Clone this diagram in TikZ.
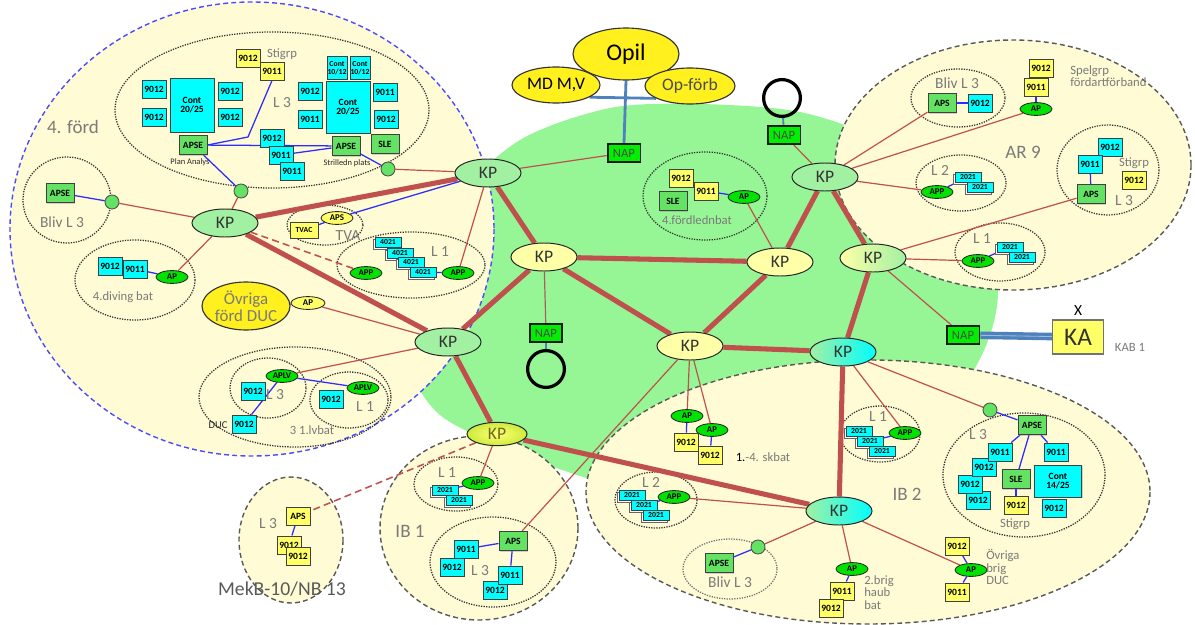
\documentclass[tikz,border=0pt]{standalone}
\usepackage{fontspec}
\setmainfont{Carlito}
\usetikzlibrary{shapes.geometric,shadows}

\definecolor{regyel}{RGB}{255,251,212}
\definecolor{netgreen}{RGB}{150,246,150}
\definecolor{kpgreen}{RGB}{162,240,162}
\definecolor{kpyel}{RGB}{255,255,168}
\definecolor{linkred}{RGB}{192,80,77}
\definecolor{boxcyan}{RGB}{0,255,255}
\definecolor{boxyel}{RGB}{255,255,102}
\definecolor{boxgreen}{RGB}{100,226,100}
\definecolor{apgreen}{RGB}{0,226,0}
\definecolor{napgreen}{RGB}{0,238,0}
\definecolor{steel}{RGB}{79,129,189}
\definecolor{txtgray}{RGB}{122,122,122}
\definecolor{blueline}{RGB}{45,45,255}
\definecolor{opyel}{RGB}{255,240,30}
\definecolor{limeyel}{RGB}{205,235,60}

\pgfdeclarelayer{back}
\pgfdeclarelayer{mid}
\pgfsetlayers{back,mid,main}

\def\fsz#1{\fontsize{#1}{#1}\selectfont}
\def\bxf{\fsz{6.8}\bfseries}
\def\tnf{\fsz{5.5}\bfseries}

\tikzset{
  kp/.style={ellipse, draw=black!85, line width=0.7pt, inner sep=0pt, minimum width=16.5mm, minimum height=7mm, text=black!80, font=\fsz{12.5}},
  kpg/.style={kp, fill=kpgreen},
  kpy/.style={kp, fill=kpyel},
  unitbox/.style={rectangle, draw=black!75, line width=0.7pt, inner sep=0pt, minimum width=6mm, minimum height=4.5mm, font=\bxf, align=center, drop shadow={shadow xshift=0.7pt, shadow yshift=-0.7pt, opacity=0.35}},
  cbox/.style={unitbox, fill=boxcyan},
  ybox/.style={unitbox, fill=boxyel},
  gbox/.style={unitbox, fill=boxgreen, minimum width=7mm, minimum height=4.8mm},
  sbox/.style={rectangle, draw=black!75, line width=0.6pt, fill=boxcyan, inner sep=0pt, minimum width=6.5mm, minimum height=2.5mm, font=\tnf, general shadow={shadow xshift=-0.8pt, shadow yshift=-1.7pt, fill=white, draw=black!60}},
  knot/.style={circle, draw=black!70, line width=0.6pt, fill=boxgreen, minimum size=3.5mm, inner sep=0pt},
  ap/.style={ellipse, draw=black!85, line width=0.6pt, fill=apgreen, minimum width=8mm, minimum height=3.2mm, inner sep=0pt, font=\fsz{6.3}\bfseries},
  nap/.style={rectangle, draw=black!90, line width=1.3pt, fill=napgreen, minimum width=8.2mm, minimum height=4.6mm, inner sep=0pt, font=\fsz{9}, text=black!70},
  ring/.style={circle, draw=black, line width=2.3pt, minimum size=9.2mm, inner sep=0pt},
  bub/.style={ellipse, draw=black!80, line width=0.8pt, fill=opyel, inner sep=0pt},
  lbl/.style={text=txtgray, inner sep=0pt, font=\fsz{11}},
  biglbl/.style={lbl, font=\fsz{13.5}},
  smlbl/.style={lbl, font=\fsz{9}, align=left},
  tinylbl/.style={inner sep=0pt, font=\fsz{6}, text=black!85},
  trunk/.style={draw=linkred, line width=3.6pt},
  lnk/.style={draw=linkred, line width=0.85pt},
  blk/.style={draw=blueline, line width=0.9pt},
  feed/.style={draw=steel, line width=2pt},
  dotreg/.style={draw=black!80, line width=0.9pt, dash pattern=on 0.9pt off 0.9pt},
  dashreg/.style={draw=black!65, fill=regyel, line width=1pt, dash pattern=on 3.5pt off 2.3pt},
  fordreg/.style={dashreg, draw=blueline!85}
}

\begin{document}
\begin{tikzpicture}[x=0.025cm, y=-0.025cm]
  %%%%% START %%%%%
  \useasboundingbox (0,0) rectangle (1195,624);

  %%%%% areas %%%%%
  \begin{pgfonlayer}{back}
    \fill[netgreen] plot[smooth cycle] coordinates {(700,104) (800,112) (885,142) (955,195) (996,275) (990,335) (955,395) (870,450) (760,490) (640,490) (580,476) (500,446) (440,415) (412,370) (412,290) (450,205) (520,140) (610,108)};
    \draw[fordreg] (252,229) ellipse (242 and 227);
    \draw[dashreg] (1013,165) ellipse (178 and 125);
    \draw[dashreg] (868,492) ellipse (282 and 132);
    \draw[dashreg] (479,528) ellipse (99 and 92);
    \draw[dashreg] (291,540) ellipse (52 and 63);

    \draw[dotreg] (272,110) ellipse (157 and 78);
    \draw[dotreg] (67,200) ellipse (44 and 43);
    \draw[dotreg] (135,280) ellipse (60 and 40);
    \draw[dotreg] (325,225) ellipse (38 and 20);
    \draw[dotreg] (411,265) ellipse (74 and 33);
    \draw[dotreg] (295,397) ellipse (96 and 50);
    \draw[dotreg] (268,388) ellipse (38 and 30);
    \draw[dotreg] (349,400) ellipse (39 and 28);
    \draw[dotreg] (958,98) ellipse (47 and 29);
    \draw[dotreg] (961,183) ellipse (45 and 28);
    \draw[dotreg] (1108,170) ellipse (51 and 45);
    \draw[dotreg] (1000,252) ellipse (45 and 29);
    \draw[dotreg] (705,196) ellipse (62 and 44);
    \draw[dotreg] (880,434) ellipse (40 and 28);
    \draw[dotreg] (656,500) ellipse (41 and 28);
    \draw[dotreg, draw=black!55] (730,569) ellipse (47 and 30);
    \draw[dotreg] (1024,475) ellipse (81 and 62);
    \draw[dotreg] (456,484) ellipse (42 and 27);
    \draw[dotreg] (493,562) ellipse (63 and 45);
  \end{pgfonlayer}

  %%%%% KP %%%%%
  \node[kpg] (kpford) at (225,223) {KP};
  \node[kpg] (kpfordN) at (488,173) {KP};
  \node[kpg] (kpfordS) at (448,342) {KP};
  \node[kpy] (kpW) at (544,257) {KP};
  \node[kpy] (kpE) at (780,262) {KP};
  \node[kpy] (kpS) at (690,346) {KP};
  \node[kp, left color=kpyel, right color=kpgreen] (kpR) at (873,258) {KP};
  \node[kpg] (kpAR) at (825,177) {KP};
  \node[kp, left color=kpgreen, right color=boxcyan] (kpC) at (843,352) {KP};
  \node[kp, left color=kpgreen, right color=boxcyan] (kpIB2) at (839,511) {KP};
  \node[kp, minimum width=15mm, minimum height=5.8mm, inner color=yellow!55, outer color=limeyel, text=olive!70!black] (kpIB1) at (497,434) {KP};

  %%%%% NAP, Opil, KA %%%%%
  \node[bub, minimum width=26.5mm, minimum height=13mm, font=\fsz{17}] (opil) at (626,54) {Opil};
  \node[bub, minimum width=22mm, minimum height=9mm, font=\fsz{12.5}] (mdmv) at (556,85) {MD M,V};
  \node[bub, minimum width=22.5mm, minimum height=9mm, font=\fsz{12.5}, text=black!70] (opforb) at (690,86) {Op-förb};
  \node[nap] (nap1) at (624,153) {NAP};
  \node[nap] (nap2) at (784,135) {NAP};
  \node[nap] (nap3) at (546,333) {NAP};
  \node[nap] (nap4) at (963,335) {NAP};
  \node[ring] (ring2) at (782,98) {};
  \node[ring] (ring3) at (546,369) {};
  \node[rectangle, draw=black!55, line width=1pt, fill=boxyel, minimum width=12.7mm, minimum height=8.5mm, font=\fsz{18}, text=black!80] (ka) at (1078,337) {KA};
  \node[inner sep=0pt, font=\fsz{11}] (kax) at (1078,311) {X};
  \node[smlbl] (kab) at (1130,347) {KAB 1};

  %%%%% 4. ford %%%%%
  \node[biglbl] (fordlbl) at (73,127) {4. förd};
  \node[ybox] (st9012) at (248,58) {9012};
  \node[ybox] (st9011) at (272,71) {9011};
  \node[smlbl] (stlbl) at (282,54) {Stigrp};
  \node[cbox] (pa9012a) at (154,89) {9012};
  \node[cbox] (pa9012b) at (154,117) {9012};
  \node[cbox, minimum width=11mm, minimum height=13.5mm] (cont1) at (192,105) {Cont\\20/25};
  \node[cbox] (pa9012c) at (230,91) {9012};
  \node[cbox] (pa9012d) at (230,117) {9012};
  \node[lbl] (l3a) at (282,103) {L 3};
  \node[gbox] (apsePA) at (193,145) {APSE};
  \node[tinylbl] (paname) at (190,162) {Plan Analys};
  \node[cbox] (x9012) at (272,138) {9012};
  \node[cbox] (x9011a) at (281,155) {9011};
  \node[cbox] (x9011b) at (292,171) {9011};
  \node[cbox, minimum width=5mm, minimum height=5.7mm, font=\tnf] (cont2a) at (337,68) {Cont\\10/12};
  \node[cbox, minimum width=5mm, minimum height=5.7mm, font=\tnf] (cont2b) at (360,68) {Cont\\10/12};
  \node[cbox] (sp9012) at (310,91) {9012};
  \node[cbox] (sp9011) at (310,119) {9011};
  \node[cbox, minimum width=11mm, minimum height=13mm] (cont3) at (348,107) {Cont\\20/25};
  \node[cbox] (sp9011b) at (385,92) {9011};
  \node[cbox] (sp9012b) at (386,119) {9012};
  \node[gbox] (apseSP) at (346,146) {APSE};
  \node[gbox] (sleSP) at (385,144) {SLE};
  \node[tinylbl] (spname) at (347,163) {Strilledn plats};
  \node[knot] (knotSP) at (388,169) {};
  \node[knot] (knotPA) at (241,191) {};

  \node[gbox] (apseBL) at (60,193) {APSE};
  \node[knot] (knotBL) at (112,202) {};
  \node[lbl] (blivA) at (62,222) {Bliv L 3};

  \node[cbox] (dv9012) at (110,266) {9012};
  \node[cbox] (dv9011) at (135,269) {9011};
  \node[ap] (apDiv) at (172,277) {AP};
  \node[smlbl] (dvlbl) at (123,297) {4.diving bat};

  \node[ybox, minimum width=7mm, minimum height=4mm, font=\tnf] (tvac) at (304,230) {TVAC};
  \node[ap, fill=boxyel] (apsTVA) at (337,218) {APS};
  \node[lbl] (tvalbl) at (348,236) {TVA};

  \node[sbox] (f4021a) at (388,242) {4021};
  \node[sbox] (f4021b) at (400,253) {4021};
  \node[sbox] (f4021c) at (411,262) {4021};
  \node[sbox] (f4021d) at (423,272) {4021};
  \node[ap] (appFa) at (366,273) {APP};
  \node[ap] (appFb) at (458,273) {APP};
  \node[lbl] (l1F) at (440,252) {L 1};

  \node[bub, minimum width=21.5mm, minimum height=12mm, font=\fsz{12}, text=txtgray, align=center] (ovrF) at (246,306) {Övriga\\förd DUC};
  \node[ap, fill=boxyel, minimum width=8.5mm] (apDUC) at (308,303) {AP};

  \node[lbl] (l3lv) at (275,395) {L 3};
  \node[ap] (aplv1) at (282,376) {APLV};
  \node[ap] (aplv2) at (363,388) {APLV};
  \node[cbox] (lv9012a) at (253,391) {9012};
  \node[cbox] (lv9012b) at (331,399) {9012};
  \node[cbox] (lv9012c) at (244,424) {9012};
  \node[tinylbl, font=\fsz{7.5}] (duclbl) at (218,425) {DUC};
  \node[lbl] (l1lv) at (365,407) {L 1};
  \node[smlbl] (lvlbl) at (312,430) {3 1.lvbat};

  %%%%% AR 9 %%%%%
  \node[biglbl] (arlbl) at (1023,152) {AR 9};
  \node[lbl] (blivB) at (957,83) {Bliv L 3};
  \node[gbox] (apsBL2) at (942,103) {APS};
  \node[cbox] (bl9012) at (980,103) {9012};
  \node[ybox] (sg9012) at (1041,68) {9012};
  \node[ybox] (sg9011) at (1036,87) {9011};
  \node[ap] (apSpel) at (1036,109) {AP};
  \node[smlbl, anchor=west] (spellbl) at (1070,76) {Spelgrp\\fördartförband};
  \node[lbl] (l2ar) at (940,170) {L 2};
  \node[sbox] (ar2021a) at (968,177) {2021};
  \node[sbox] (ar2021b) at (980,187) {2021};
  \node[ap] (appAR2) at (937,192) {APP};
  \node[cbox] (ar9012) at (1110,147) {9012};
  \node[cbox] (ar9011) at (1090,164) {9011};
  \node[gbox] (apsAR3) at (1091,194) {APS};
  \node[smlbl] (stAR) at (1134,163) {Stigrp};
  \node[ybox] (arY9012) at (1134,180) {9012};
  \node[lbl] (l3ar) at (1124,201) {L 3};
  \node[lbl] (l1ar) at (982,239) {L 1};
  \node[sbox] (ar1021a) at (1010,247) {2021};
  \node[sbox] (ar1021b) at (1022,257) {2021};
  \node[ap] (appAR1) at (978,261) {APP};

  %%%%% 4.fordlednbat %%%%%
  \node[ybox] (ld9012) at (681,178) {9012};
  \node[ybox] (ld9011) at (706,191) {9011};
  \node[gbox] (ldSLE) at (673,201) {SLE};
  \node[ap] (apLed) at (744,197) {AP};
  \node[smlbl] (ldlbl) at (697,220) {4.fördlednbat};

  %%%%% IB 2 %%%%%
  \node[biglbl] (ib2lbl) at (907,494) {IB 2};
  \node[ap] (apSk1) at (687,416) {AP};
  \node[ap] (apSk2) at (712,430) {AP};
  \node[ybox] (sk9012a) at (686,442) {9012};
  \node[ybox] (sk9012b) at (710,455) {9012};
  \node[smlbl] (sklbl) at (763,457) {{\color{black}1.}-4. skbat};
  \node[lbl] (l1ib2) at (878,417) {L 1};
  \node[sbox] (ib1021a) at (859,431) {2021};
  \node[sbox] (ib1021b) at (870,441) {2021};
  \node[sbox] (ib1021c) at (882,451) {2021};
  \node[ap] (appIB2a) at (905,433) {APP};
  \node[lbl] (l2ib2) at (651,482) {L 2};
  \node[sbox] (ib2021a) at (632,495) {2021};
  \node[sbox] (ib2021b) at (644,505) {2021};
  \node[sbox] (ib2021c) at (656,515) {2021};
  \node[ap] (appIB2b) at (674,497) {APP};
  \node[gbox] (apseBL3) at (719,563) {APSE};
  \node[knot] (knotBL3) at (758,547) {};
  \node[lbl] (blivC) at (730,582) {Bliv L 3};
  \node[ap] (apBrig) at (852,569) {AP};
  \node[ybox] (br9011) at (842,591) {9011};
  \node[ybox] (br9012) at (831,608) {9012};
  \node[smlbl, anchor=north west] (brlbl) at (864,575) {2.brig\\haub\\bat};
  \node[ybox] (ov9012) at (957,546) {9012};
  \node[ap] (apOvr) at (971,570) {AP};
  \node[ybox] (ov9011) at (957,592) {9011};
  \node[smlbl, anchor=north west] (ovlbl) at (986,549) {Övriga\\brig\\DUC};
  \node[knot] (knotIB2) at (990,410) {};
  \node[gbox] (apseIB2) at (1032,425) {APSE};
  \node[lbl] (l3ib2) at (978,435) {L 3};
  \node[cbox] (ib9012d) at (978,500) {9012};
  \node[cbox] (ib9012c) at (970,484) {9012};
  \node[cbox] (ib9012b) at (984,467) {9012};
  \node[cbox] (ib9011a) at (1000,452) {9011};
  \node[gbox] (sleIB2) at (1016,479) {SLE};
  \node[ybox] (ib9012y) at (1016,505) {9012};
  \node[smlbl] (stIB2) at (1015,524) {Stigrp};
  \node[cbox] (ib9011b) at (1056,452) {9011};
  \node[cbox, minimum width=11.75mm, minimum height=8mm] (cont4) at (1058,481) {Cont\\14/25};
  \node[cbox] (ib9012e) at (1054,508) {9012};

  %%%%% IB 1 %%%%%
  \node[biglbl] (ib1lbl) at (410,531) {IB 1};
  \node[lbl] (l1ib1) at (447,473) {L 1};
  \node[sbox] (i1021a) at (445,490) {2021};
  \node[sbox] (i1021b) at (459,500) {2021};
  \node[ap] (appIB1) at (478,483) {APP};
  \node[gbox] (apsIB1) at (513,541) {APS};
  \node[cbox] (i19012a) at (452,567) {9012};
  \node[cbox] (i19011a) at (466,549) {9011};
  \node[lbl] (l3ib1) at (480,571) {L 3};
  \node[cbox] (i19012b) at (495,590) {9012};
  \node[cbox] (i19011b) at (510,575) {9011};

  %%%%% MekB %%%%%
  \node[lbl] (l3mek) at (268,524) {L 3};
  \node[ybox] (mkAPS) at (298,516) {APS};
  \node[ybox] (mk9012a) at (289,545) {9012};
  \node[ybox] (mk9012b) at (298,556) {9012};
  \node[biglbl, font=\fsz{14}, text=black!65] (mklbl) at (282,589) {MekB-10/NB 13};

  \coordinate (bend1) at (248,137);

  %%%%% connectors %%%%%
  \begin{pgfonlayer}{mid}
    \draw[trunk] (kpford) -- (kpfordN);
    \draw[trunk] (kpford) -- (kpfordS);
    \draw[trunk] (kpfordN) -- (kpW);
    \draw[trunk] (kpfordS) -- (kpW);
    \draw[trunk] (kpW) -- (kpE);
    \draw[trunk] (kpW) -- (kpS);
    \draw[trunk] (kpE) -- (kpS);
    \draw[trunk] (kpE) -- (kpAR);
    \draw[trunk] (kpAR) -- (kpR);
    \draw[trunk] (kpR) -- (kpC);
    \draw[trunk] (kpS) -- (kpC);
    \draw[trunk] (kpfordS) -- (kpIB1);
    \draw[trunk] (kpIB1) -- (kpIB2);
    \draw[trunk] (kpC) -- (kpIB2);

    \draw[lnk] (kpford) -- (knotBL);
    \draw[lnk] (kpford) -- (knotPA);
    \draw[lnk] (kpford) -- (apDiv);
    \draw[lnk, line width=1.1pt, dash pattern=on 5pt off 3pt] (kpford) -- (appFa);
    \draw[lnk] (kpfordN) -- (knotSP);
    \draw[lnk] (kpfordN) -- (appFb);
    \draw[lnk] (kpfordN) -- (nap1);
    \draw[lnk] (kpfordS) -- (apDUC);
    \draw[lnk] (kpfordS) -- (aplv1);
    \draw[lnk, draw=linkred!70!gray] (kpW) -- (nap3);
    \draw[lnk] (kpAR) -- (nap2);
    \draw[lnk] (kpAR) -- (apsBL2);
    \draw[lnk] (kpAR) -- (apSpel);
    \draw[lnk] (kpAR) -- (appAR2);
    \draw[lnk] (kpR) -- (apsAR3);
    \draw[lnk] (kpR) -- (appAR1);
    \draw[lnk] (kpR) -- (nap4);
    \draw[lnk] (kpE) -- (apLed);
    \draw[lnk] (kpS) -- (apSk1);
    \draw[lnk] (kpS) -- (apSk2);
    \draw[lnk] (kpS) -- (apsIB1);
    \draw[lnk] (kpIB1) -- (appIB1);
    \draw[lnk, line width=1.1pt, dash pattern=on 5pt off 3pt] (kpIB1) -- (mkAPS);
    \draw[lnk] (kpC) -- (appIB2a);
    \draw[lnk] (kpC) -- (knotIB2);
    \draw[lnk] (kpIB2) -- (appIB2b);
    \draw[lnk] (kpIB2) -- (knotBL3);
    \draw[lnk] (kpIB2) -- (apBrig);
    \draw[lnk] (kpIB2) -- (apOvr);

    \draw[blk] (apsePA.east) -- (bend1) -- (st9011.south);
    \draw[blk] (apsePA) -- (apseSP);
    \draw[blk] (apsePA) -- (knotPA);
    \draw[blk] (apseSP) -- (knotSP);
    \draw[blk] (x9011a) -- (apseSP);
    \draw[blk] (tvac) -- (apsTVA);
    \draw[blk] (kpfordN) -- (apsTVA);
    \draw[blk] (f4021d) -- (appFb);
    \draw[blk, line width=2pt] (ovrF) -- (apDUC);
    \draw[blk] (dv9011) -- (apDiv);
    \draw[blk] (apseBL) -- (knotBL);
    \draw[blk] (aplv1) -- (aplv2);
    \draw[blk] (aplv1) -- (lv9012c);
    \draw[blk] (apsBL2) -- (bl9012);
    \draw[blk] (sg9011) -- (apSpel);
    \draw[blk] (appAR2) -- (ar2021a);
    \draw[blk] (ar9011) -- (apsAR3);
    \draw[blk] (appAR1) -- (ar1021a);
    \draw[blk] (ld9011) -- (apLed);
    \draw[blk] (apSk1) -- (sk9012a);
    \draw[blk] (apSk2) -- (sk9012b);
    \draw[blk] (appIB2a) -- (ib1021b);
    \draw[blk] (appIB2b) -- (ib2021b);
    \draw[blk] (apseBL3) -- (knotBL3);
    \draw[blk] (apBrig) -- (br9011);
    \draw[blk] (apOvr) -- (ov9012);
    \draw[blk] (apOvr) -- (ov9011);
    \draw[blk] (knotIB2) -- (apseIB2);
    \draw[blk] (apseIB2) -- (ib9011a);
    \draw[blk] (apseIB2) -- (sleIB2);
    \draw[blk] (apseIB2) -- (ib9011b);
    \draw[blk] (sleIB2) -- (ib9012y);
    \draw[blk] (appIB1) -- (i1021a);
    \draw[blk] (apsIB1) -- (i19011a);
    \draw[blk] (apsIB1) -- (i19011b);
    \draw[blk] (mkAPS) -- (mk9012a);

    \draw[feed] (opil.south) -- (nap1.north);
    \draw[feed] (mdmv.-20) -- (opforb.200);
    \draw[feed, line width=1.3pt] (ring2) -- (nap2);
    \draw[feed, line width=1.3pt] (nap3) -- (ring3);
    \draw[feed, line width=2.4pt, double=steel!55, double distance=0.6pt] (nap4) -- (ka);
  \end{pgfonlayer}

  %%%%% END %%%%%
\end{tikzpicture}
\end{document}
